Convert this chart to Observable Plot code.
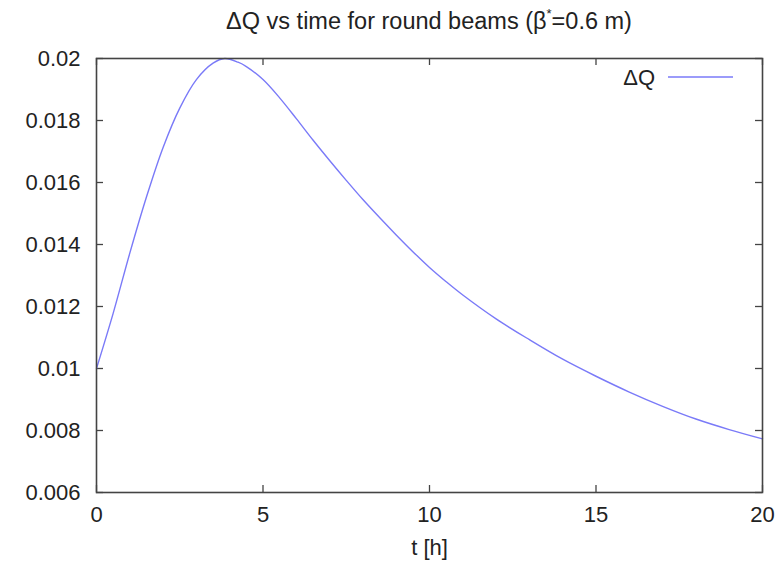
<!DOCTYPE html>
<html>
<head>
<meta charset="utf-8">
<script src="https://cdn.jsdelivr.net/npm/d3@7"></script>
<script src="https://cdn.jsdelivr.net/npm/@observablehq/plot@0.6"></script>
<style>
  html, body { margin: 0; padding: 0; background: #fff; }
  body { width: 778px; height: 562px; position: relative; overflow: hidden;
         font-family: "Liberation Sans", Arial, Helvetica, sans-serif; color: #222; }
  #title { height: 40px; line-height: 42px; font-size: 23.5px; text-align: center; white-space: nowrap;
           padding-left: 96px; padding-right: 16px; box-sizing: border-box; width: 778px; overflow: hidden; }
  #title .star { font-size: 13px; position: relative; top: -11px; line-height: 0; }
  #legend { position: absolute; left: 560px; top: 62px; width: 200px; height: 30px; }
</style>
</head>
<body>
<div id="title">ΔQ vs time for round beams (β<span class="star">*</span>=0.6 m)</div>
<div id="chart"></div>
<div id="legend"></div>
<script>
// time [h]
const tHours = [0, 0.5, 1, 1.5, 2, 2.5, 3, 3.5, 3.85, 4.25, 4.5, 5, 5.5, 6, 6.5, 7, 7.5, 8, 8.5, 9, 9.5, 10, 10.5, 11, 12, 13, 14, 15, 16, 17, 18, 19, 20];
// ΔQ values
const deltaQ = [0.0100, 0.01178, 0.01372, 0.01553, 0.01713, 0.0184, 0.01932, 0.01985, 0.0200, 0.01988, 0.01974, 0.01932, 0.01873, 0.01806, 0.01737, 0.01671, 0.01607, 0.01545, 0.01487, 0.01431, 0.01377, 0.01326, 0.0128, 0.01237, 0.0116, 0.01093, 0.0103, 0.00975, 0.00924, 0.00878, 0.00837, 0.00803, 0.00773];
const xTicks = [0, 5, 10, 15, 20];
const yTicks = [0.006, 0.008, 0.01, 0.012, 0.014, 0.016, 0.018, 0.02];
const seriesName = "ΔQ";
const lineColor = "#7a7af8";

const data = tHours.map((t, i) => ({t, q: deltaQ[i]}));

const W = 778, H = 522, mL = 96, mR = 16, mT = 18, mB = 70;
const pw = W - mL - mR, ph = H - mT - mB, tk = 7;
const frameColor = "#444";

const chart = Plot.plot({
  width: W, height: H,
  marginLeft: mL, marginRight: mR, marginTop: mT, marginBottom: mB,
  style: {fontFamily: '"Liberation Sans", Arial, Helvetica, sans-serif', fontSize: "22px", color: "#222", background: "#fff"},
  x: {domain: [0, 20]},
  y: {domain: [0.006, 0.02]},
  marks: [
    Plot.axisX(xTicks, {tickSize: 0, tickPadding: 14, fontSize: 22, label: "t [h]", labelAnchor: "center", labelArrow: "none", labelOffset: 62}),
    Plot.axisY(yTicks, {tickSize: 0, tickPadding: 16, fontSize: 22, label: null, tickFormat: d => String(+d.toFixed(3))}),
    // inward ticks (left, right, bottom, top)
    Plot.tickY(yTicks, {y: d => d, insetRight: pw - tk, stroke: frameColor, strokeWidth: 1.3}),
    Plot.tickY(yTicks, {y: d => d, insetLeft: pw - tk, stroke: frameColor, strokeWidth: 1.3}),
    Plot.tickX(xTicks, {x: d => d, insetTop: ph - tk, stroke: frameColor, strokeWidth: 1.3}),
    Plot.tickX(xTicks, {x: d => d, insetBottom: ph - tk, stroke: frameColor, strokeWidth: 1.3}),
    Plot.line(data, {x: "t", y: "q", stroke: lineColor, strokeWidth: 1.4, curve: "catmull-rom"}),
    Plot.frame({stroke: frameColor, strokeWidth: 1.6})
  ]
});
document.getElementById("chart").appendChild(chart);

// legend
const lg = d3.select("#legend").append("svg").attr("width", 200).attr("height", 30);
lg.append("text").attr("x", 95).attr("y", 23).attr("text-anchor", "end")
  .attr("font-size", 22).attr("fill", "#222")
  .attr("font-family", '"Liberation Sans", Arial, Helvetica, sans-serif').text(seriesName);
lg.append("line").attr("x1", 108).attr("x2", 173).attr("y1", 15).attr("y2", 15)
  .attr("stroke", lineColor).attr("stroke-width", 1.4);
</script>
</body>
</html>
